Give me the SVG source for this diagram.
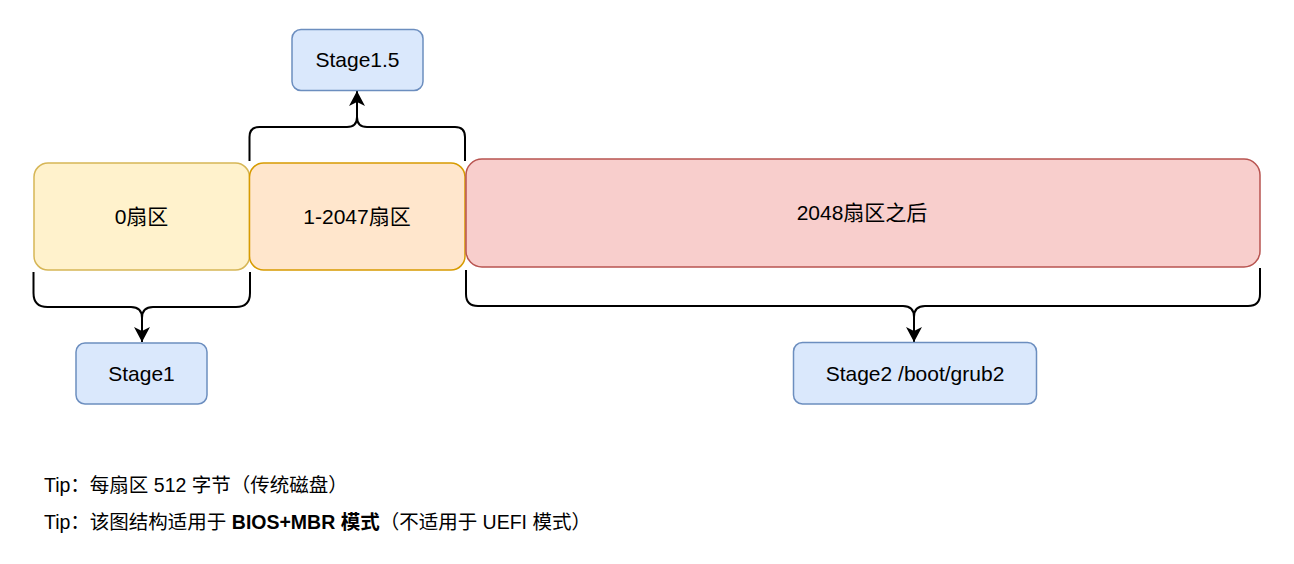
<svg xmlns="http://www.w3.org/2000/svg" width="1294" height="564" viewBox="0 0 1294 564">
  <defs>
    <marker id="arrow" markerUnits="userSpaceOnUse" viewBox="-16 -9 17 18" refX="0" refY="0" markerWidth="17" markerHeight="18" orient="auto">
      <path d="M0,0 L-15,-8 L-11,0 L-15,8 Z" fill="#000000"/>
    </marker>
  </defs>
  <style>
    text { font-family: "Liberation Sans", Arial, "Noto Sans CJK SC", sans-serif; fill: #000000; }
    .lbl { font-size: 21px; text-anchor: middle; }
    .tip { font-size: 19.5px; }
    .yellow { fill: #fff2cc; stroke: #d6b656; stroke-width: 1.5; }
    .orange { fill: #ffe6cc; stroke: #d79b00; stroke-width: 1.5; }
    .red { fill: #f8cecc; stroke: #b85450; stroke-width: 1.5; }
    .blue { fill: #dae8fc; stroke: #6c8ebf; stroke-width: 1.5; }
    .brace { fill: none; stroke: #000000; stroke-width: 2; }
    .stem { fill: none; stroke: #000000; stroke-width: 2; marker-end: url(#arrow); }
  </style>
  <rect width="1294" height="564" fill="#ffffff"/>

  <g id="connectors">
    <path class="brace" d="M249.5,161 V137 Q249.5,127 259.5,127 H347 Q357,127 357,117 Q357,127 367,127 H455 Q465,127 465,137 V161"/>
    <path class="stem" d="M357,117 V91"/>
    <path class="brace" d="M33.5,272 V293 Q33.5,307 47.5,307 H131 Q142,307 142,318 Q142,307 153,307 H236 Q250,307 250,293 V272"/>
    <path class="stem" d="M142,318 V342"/>
    <path class="brace" d="M466,270 V294 Q466,306 478,306 H903 Q914,306 914,317 Q914,306 925,306 H1248 Q1260,306 1260,294 V268"/>
    <path class="stem" d="M914,317 V342"/>
  </g>

  <g id="sector0">
    <rect class="yellow" x="34" y="163" width="215.5" height="107" rx="14"/>
    <text class="lbl" x="141.5" y="224">0扇区</text>
  </g>
  <g id="sector1-2047">
    <rect class="orange" x="249.5" y="163" width="215.5" height="107" rx="14"/>
    <text class="lbl" x="357" y="224">1-2047扇区</text>
  </g>
  <g id="sector2048">
    <rect class="red" x="466" y="159" width="794" height="108" rx="16"/>
    <text class="lbl" x="862" y="220">2048扇区之后</text>
  </g>
  <g id="stage15">
    <rect class="blue" x="292" y="29.5" width="131" height="61" rx="9"/>
    <text class="lbl" x="357.5" y="67">Stage1.5</text>
  </g>
  <g id="stage1">
    <rect class="blue" x="76" y="343" width="131" height="61" rx="9"/>
    <text class="lbl" x="141.5" y="380.5">Stage1</text>
  </g>
  <g id="stage2">
    <rect class="blue" x="793.5" y="342.5" width="243" height="61.5" rx="9"/>
    <text class="lbl" x="915" y="380.5">Stage2 /boot/grub2</text>
  </g>

  <g id="tips">
    <text class="tip" x="44" y="492">Tip：每扇区 512 字节（传统磁盘）</text>
    <text class="tip" x="44" y="529">Tip：该图结构适用于 <tspan font-weight="bold">BIOS+MBR 模式</tspan>（不适用于 UEFI 模式）</text>
  </g>
</svg>
